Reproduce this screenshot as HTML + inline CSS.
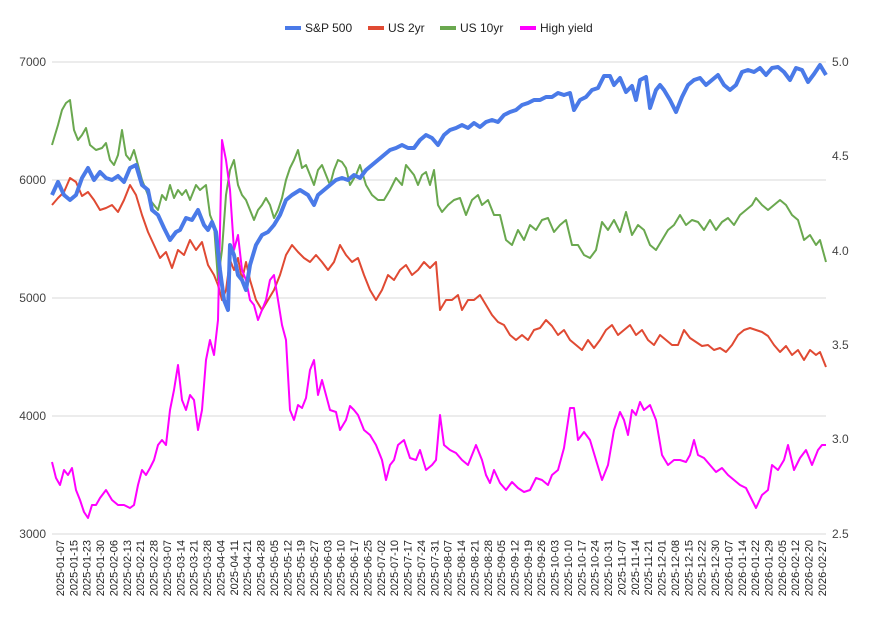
<!DOCTYPE html>
<html><head><meta charset="utf-8"><style>
body{margin:0;background:#fff}
svg{font-family:"Liberation Sans",Arial,sans-serif}
</style></head><body>
<svg width="873" height="612" viewBox="0 0 873 612">
<rect width="873" height="612" fill="#fff"/>
<g stroke="#d9d9d9" stroke-width="1">
<line x1="52" y1="62" x2="826" y2="62"/><line x1="52" y1="180" x2="826" y2="180"/><line x1="52" y1="298" x2="826" y2="298"/><line x1="52" y1="416" x2="826" y2="416"/><line x1="52" y1="534" x2="826" y2="534"/>
</g>
<g font-size="12" fill="#444" text-anchor="end">
<text x="46" y="66">7000</text><text x="46" y="184">6000</text><text x="46" y="302">5000</text><text x="46" y="420">4000</text><text x="46" y="538">3000</text>
</g>
<g font-size="12" fill="#444">
<text x="832" y="66">5.0</text><text x="832" y="160">4.5</text><text x="832" y="255">4.0</text><text x="832" y="349">3.5</text><text x="832" y="443">3.0</text><text x="832" y="538">2.5</text>
</g>
<g font-size="12">
<line x1="285" y1="28" x2="301" y2="28" stroke="#4a7ae8" stroke-width="4"/><text x="305" y="32" fill="#222">S&amp;P 500</text>
<line x1="368" y1="28" x2="384" y2="28" stroke="#e04a33" stroke-width="4"/><text x="388" y="32" fill="#222">US 2yr</text>
<line x1="440" y1="28" x2="456" y2="28" stroke="#6aa84f" stroke-width="4"/><text x="460" y="32" fill="#222">US 10yr</text>
<line x1="520" y1="28" x2="536" y2="28" stroke="#ff00ff" stroke-width="4"/><text x="540" y="32" fill="#222">High yield</text>
</g>
<g fill="none" stroke-linejoin="round">
<polyline stroke="#e04a33" stroke-width="2" points="52,205 58,198 64,192 70,178 76,182 82,196 88,192 94,200 100,210 106,208 112,205 118,212 124,200 130,185 136,195 142,215 148,232 154,245 160,258 166,252 172,268 178,250 184,255 190,240 196,250 202,242 208,265 214,275 218,285 222,300 226,290 230,260 234,270 238,258 242,280 246,262 250,280 256,300 262,310 268,300 274,290 280,275 286,255 292,245 298,252 304,258 310,262 316,255 322,262 328,270 334,262 340,245 346,255 352,262 358,258 364,275 370,290 376,300 382,290 388,275 394,280 400,270 406,265 412,275 418,270 424,262 430,268 436,262 440,310 446,300 452,300 458,295 462,310 468,300 474,300 480,295 486,305 492,315 498,322 504,325 510,335 516,340 522,335 528,340 534,330 540,328 546,320 552,326 558,335 564,330 570,340 576,345 582,350 588,340 594,348 600,340 606,330 612,325 618,335 624,330 630,325 636,335 642,330 648,340 654,345 660,335 666,340 672,345 678,345 684,330 690,338 696,342 702,346 708,345 714,350 720,348 726,352 732,345 738,335 744,330 750,328 756,330 762,332 768,336 774,345 780,352 786,346 792,355 798,350 804,360 810,350 816,355 820,352 826,367"/>
<polyline stroke="#6aa84f" stroke-width="2" points="52,145 58,125 62,110 66,103 70,100 74,130 78,140 82,135 86,128 90,145 96,150 102,148 106,143 110,160 114,165 118,155 122,130 126,155 130,160 134,150 138,165 142,180 146,190 150,200 154,205 158,210 162,195 166,200 170,185 174,198 178,190 182,195 186,190 190,200 196,185 200,190 206,185 210,215 214,225 218,280 222,250 226,195 230,170 234,160 238,185 242,195 246,200 250,210 254,220 258,210 262,205 266,198 270,205 274,218 278,210 282,198 286,180 290,168 294,160 298,150 302,168 306,165 310,175 314,185 318,170 322,165 326,175 330,185 334,170 338,160 342,162 346,168 350,185 356,175 360,165 366,185 372,195 378,200 384,200 390,190 396,178 402,185 406,165 410,170 414,175 418,185 422,175 426,172 430,185 434,170 438,205 442,212 448,205 454,200 460,198 466,215 472,200 478,195 482,205 488,200 494,215 500,215 506,240 512,245 518,230 524,240 530,225 536,230 542,220 548,218 554,232 560,225 566,220 572,245 578,245 584,255 590,258 596,250 602,222 608,230 614,220 620,232 626,212 632,235 638,225 644,230 650,245 656,250 662,240 668,230 674,225 680,215 686,225 692,220 698,222 704,230 710,220 716,230 722,222 728,218 734,225 740,215 746,210 752,205 756,198 762,205 768,210 774,205 780,200 786,205 792,215 798,220 804,240 810,235 816,245 820,240 826,262"/>
<polyline stroke="#ff00ff" stroke-width="2" points="52,462 56,478 60,485 64,470 68,475 72,468 76,490 80,500 84,512 88,518 92,505 96,505 100,498 106,490 112,500 118,505 124,505 130,508 134,505 138,485 142,470 146,475 150,468 154,460 158,445 162,440 166,445 170,410 174,390 178,365 182,400 186,410 190,395 194,400 198,430 202,410 206,360 210,340 214,355 218,320 222,140 226,160 230,190 234,250 238,235 242,270 246,280 250,300 254,305 258,320 262,310 266,300 270,280 274,275 278,300 282,325 286,340 290,410 294,420 298,405 302,408 306,398 310,370 314,360 318,395 322,380 326,395 330,410 336,412 340,430 346,420 350,406 354,410 358,415 364,430 370,435 376,445 382,460 386,480 390,465 394,460 398,445 404,440 410,458 416,460 420,450 426,470 432,465 436,460 440,415 444,445 450,450 456,453 462,460 468,465 472,455 476,445 482,460 486,475 490,483 494,470 500,483 506,490 512,482 518,488 524,492 530,490 536,478 542,480 548,485 552,475 558,470 564,448 570,408 574,408 578,440 584,432 590,440 596,460 602,480 608,465 614,430 620,412 624,420 628,435 632,410 636,415 640,402 644,410 650,405 656,420 662,455 668,465 674,460 680,460 686,462 690,455 694,440 698,455 704,458 710,465 716,472 722,468 728,475 734,480 740,485 746,488 752,500 756,508 762,495 768,490 772,465 778,470 784,460 788,445 794,470 800,458 806,450 812,465 818,450 822,445 826,445"/>
<polyline stroke="#4a7ae8" stroke-width="4" points="52,195 58,182 64,195 70,200 76,195 82,178 88,168 94,180 100,172 106,178 112,180 118,176 124,182 130,168 136,165 142,185 148,190 152,210 158,215 164,228 170,240 176,232 180,230 186,218 192,220 198,210 204,225 208,230 212,222 216,232 220,270 224,300 228,310 230,245 234,255 238,275 242,280 246,290 250,265 256,245 262,235 268,232 274,225 280,215 286,200 292,195 300,190 308,195 314,205 318,195 324,190 330,185 336,180 342,178 348,180 354,175 360,178 366,170 372,165 378,160 384,155 390,150 396,148 402,145 408,148 414,148 420,140 426,135 432,138 438,145 444,135 450,130 456,128 462,125 468,128 474,123 480,127 486,122 492,120 498,122 504,115 510,112 516,110 522,105 528,103 534,100 540,100 546,97 552,97 558,93 564,95 570,93 574,110 580,100 586,97 592,90 598,88 604,76 610,76 614,85 620,78 626,92 632,86 636,100 640,80 646,77 650,108 656,90 660,85 664,90 670,100 676,112 682,97 688,85 694,80 700,78 706,85 712,80 718,75 724,85 730,90 736,85 742,72 748,70 754,72 760,68 766,75 772,68 778,67 784,72 790,80 796,68 802,70 808,82 814,74 820,65 826,75"/>
</g>
<g font-size="11" fill="#222" text-anchor="end">
<text transform="translate(64.0,540) rotate(-90)">2025-01-07</text>
<text transform="translate(77.4,540) rotate(-90)">2025-01-15</text>
<text transform="translate(90.7,540) rotate(-90)">2025-01-23</text>
<text transform="translate(104.1,540) rotate(-90)">2025-01-30</text>
<text transform="translate(117.5,540) rotate(-90)">2025-02-06</text>
<text transform="translate(130.8,540) rotate(-90)">2025-02-13</text>
<text transform="translate(144.2,540) rotate(-90)">2025-02-21</text>
<text transform="translate(157.6,540) rotate(-90)">2025-02-28</text>
<text transform="translate(170.9,540) rotate(-90)">2025-03-07</text>
<text transform="translate(184.3,540) rotate(-90)">2025-03-14</text>
<text transform="translate(197.7,540) rotate(-90)">2025-03-21</text>
<text transform="translate(211.0,540) rotate(-90)">2025-03-28</text>
<text transform="translate(224.4,540) rotate(-90)">2025-04-04</text>
<text transform="translate(237.8,540) rotate(-90)">2025-04-11</text>
<text transform="translate(251.2,540) rotate(-90)">2025-04-21</text>
<text transform="translate(264.5,540) rotate(-90)">2025-04-28</text>
<text transform="translate(277.9,540) rotate(-90)">2025-05-05</text>
<text transform="translate(291.3,540) rotate(-90)">2025-05-12</text>
<text transform="translate(304.6,540) rotate(-90)">2025-05-19</text>
<text transform="translate(318.0,540) rotate(-90)">2025-05-27</text>
<text transform="translate(331.4,540) rotate(-90)">2025-06-03</text>
<text transform="translate(344.7,540) rotate(-90)">2025-06-10</text>
<text transform="translate(358.1,540) rotate(-90)">2025-06-17</text>
<text transform="translate(371.5,540) rotate(-90)">2025-06-25</text>
<text transform="translate(384.8,540) rotate(-90)">2025-07-02</text>
<text transform="translate(398.2,540) rotate(-90)">2025-07-10</text>
<text transform="translate(411.6,540) rotate(-90)">2025-07-17</text>
<text transform="translate(424.9,540) rotate(-90)">2025-07-24</text>
<text transform="translate(438.3,540) rotate(-90)">2025-07-31</text>
<text transform="translate(451.7,540) rotate(-90)">2025-08-07</text>
<text transform="translate(465.0,540) rotate(-90)">2025-08-14</text>
<text transform="translate(478.4,540) rotate(-90)">2025-08-21</text>
<text transform="translate(491.8,540) rotate(-90)">2025-08-28</text>
<text transform="translate(505.1,540) rotate(-90)">2025-09-05</text>
<text transform="translate(518.5,540) rotate(-90)">2025-09-12</text>
<text transform="translate(531.9,540) rotate(-90)">2025-09-19</text>
<text transform="translate(545.2,540) rotate(-90)">2025-09-26</text>
<text transform="translate(558.6,540) rotate(-90)">2025-10-03</text>
<text transform="translate(572.0,540) rotate(-90)">2025-10-10</text>
<text transform="translate(585.4,540) rotate(-90)">2025-10-17</text>
<text transform="translate(598.7,540) rotate(-90)">2025-10-24</text>
<text transform="translate(612.1,540) rotate(-90)">2025-10-31</text>
<text transform="translate(625.5,540) rotate(-90)">2025-11-07</text>
<text transform="translate(638.8,540) rotate(-90)">2025-11-14</text>
<text transform="translate(652.2,540) rotate(-90)">2025-11-21</text>
<text transform="translate(665.6,540) rotate(-90)">2025-12-01</text>
<text transform="translate(678.9,540) rotate(-90)">2025-12-08</text>
<text transform="translate(692.3,540) rotate(-90)">2025-12-15</text>
<text transform="translate(705.7,540) rotate(-90)">2025-12-22</text>
<text transform="translate(719.0,540) rotate(-90)">2025-12-30</text>
<text transform="translate(732.4,540) rotate(-90)">2026-01-07</text>
<text transform="translate(745.8,540) rotate(-90)">2026-01-14</text>
<text transform="translate(759.1,540) rotate(-90)">2026-01-22</text>
<text transform="translate(772.5,540) rotate(-90)">2026-01-29</text>
<text transform="translate(785.9,540) rotate(-90)">2026-02-05</text>
<text transform="translate(799.2,540) rotate(-90)">2026-02-12</text>
<text transform="translate(812.6,540) rotate(-90)">2026-02-20</text>
<text transform="translate(826.0,540) rotate(-90)">2026-02-27</text>
</g>
</svg>
</body></html>
